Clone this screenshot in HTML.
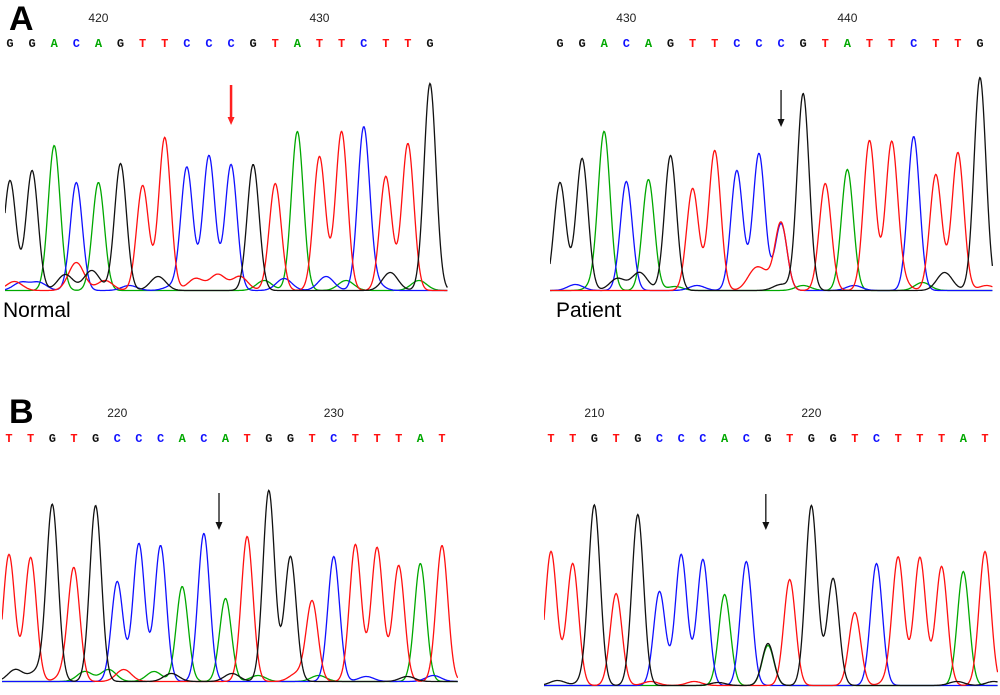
<!DOCTYPE html>
<html><head><meta charset="utf-8"><style>
html,body{margin:0;padding:0;background:#fff;}
svg{display:block;}
.seq{font-family:"Liberation Mono",monospace;font-size:12px;font-weight:bold;}
.num{font-family:"Liberation Sans",sans-serif;font-size:12px;fill:#222;}
.lab{font-family:"Liberation Sans",sans-serif;font-weight:bold;font-size:34px;fill:#000;}
.cap{font-family:"Liberation Sans",sans-serif;font-size:21px;fill:#000;}
</style></head><body>
<svg id="fig" width="1000" height="695" viewBox="0 0 1000 695">
<text class="lab" x="9" y="30">A</text>
<text class="lab" x="9" y="423">B</text>
<text class="cap" x="3" y="317">Normal</text>
<text class="cap" x="556" y="317">Patient</text>
</svg>
<script>
const aNormalBases = "GGACAGTTCCCGTATTCTTG";
const aNormalHeights = [110,120,145,108,108,127,105,153,123,135,126,126,107,159,134,159,161,114,147,207];
const aNormalExtra = [];
const aNormalNoise = [[0.2,'T',9],[0.5,'C',8],[1.3,'C',8],[2.5,'G',16],[3.0,'T',28],[3.7,'G',20],[4.3,'T',10],[5.4,'C',5],[6.7,'G',14],[7.3,'C',4],[8.4,'T',12],[9.4,'T',16],[10.4,'T',14],[11.5,'A',10],[12.4,'C',12],[14.3,'C',14],[15.2,'A',10],[16.5,'C',8],[17.2,'G',18],[18.5,'A',10]];
const aNormalTicks = ["420","430"];
const aNormalTickIdx = [4,14];

const aPatientBases = "GGACAGTTCCCGTATTCTTG";
const aPatientHeights = [108,132,156,109,111,135,102,140,120,137,67,197,107,121,150,144,154,116,138,213];
const aPatientExtra = [[10,'T',67]];
const aPatientNoise = [[0.7,'C',6],[1.6,'A',6],[2.6,'G',12],[3.6,'G',18],[5.2,'A',4],[6.2,'C',5],[8.8,'T',18],[9.3,'T',12],[10.0,'G',6],[11.0,'A',5],[13.3,'C',5],[15.4,'T',10],[16.4,'A',8],[17.4,'G',18],[19.3,'T',5]];
const aPatientTicks = ["430","440"];
const aPatientTickIdx = [3,13];

const bNormalBases = "TTGTGCCCACATGGTCTTTAT";
const bNormalHeights = [127,124,176,110,176,100,138,136,95,148,83,145,191,125,80,125,137,134,116,118,136];
const bNormalExtra = [];
const bNormalNoise = [[0.3,'G',12],[1.3,'G',10],[2.6,'T',8],[3.5,'A',10],[4.6,'A',12],[5.3,'T',12],[6.7,'A',10],[7.5,'G',8],[10.3,'G',8],[11.5,'A',6],[13.3,'T',8],[14.3,'A',6],[16.5,'C',5],[18.4,'G',5],[19.6,'C',6]];
const bNormalTicks = ["220","230"];
const bNormalTickIdx = [5,15];

const bPatientBases = "TTGTGCCCACGTGGTCTTTAT";
const bPatientHeights = [134,122,178,92,171,94,131,126,91,124,42,106,180,107,73,122,126,128,119,114,134];
const bPatientExtra = [[10,'A',40]];
const bPatientNoise = [[0.3,'G',5],[1.6,'G',5],[4.6,'T',4],[6.6,'T',4],[7.7,'G',3],[15.6,'T',5],[18.7,'G',4],[20.4,'G',4]];
const bPatientTicks = ["210","220"];
const bPatientTickIdx = [2,12];

const COLORS = {G:'#111111',A:'#00a800',C:'#1010ff',T:'#ff1010'};
const NS='http://www.w3.org/2000/svg';
const svg=document.getElementById('fig');

const panels=[
 {id:'a-normal',bases:aNormalBases,h:aNormalHeights,extra:aNormalExtra,noise:aNormalNoise,ticks:aNormalTicks,tickIdx:aNormalTickIdx,x0:10,x1:430,base:292,left:5,right:448,seqY:47,numY:22,arrow:[10,85,125,'#ff2020']},
 {id:'a-patient',bases:aPatientBases,h:aPatientHeights,extra:aPatientExtra,noise:aPatientNoise,ticks:aPatientTicks,tickIdx:aPatientTickIdx,x0:560,x1:980,base:292,left:550,right:993,seqY:47,numY:22,arrow:[10,90,127,'#111']},
 {id:'b-normal',bases:bNormalBases,h:bNormalHeights,extra:bNormalExtra,noise:bNormalNoise,ticks:bNormalTicks,tickIdx:bNormalTickIdx,x0:9,x1:442,base:683,left:2,right:458,seqY:442,numY:417,arrow:[9.7,493,530,'#111']},
 {id:'b-patient',bases:bPatientBases,h:bPatientHeights,extra:bPatientExtra,noise:bPatientNoise,ticks:bPatientTicks,tickIdx:bPatientTickIdx,x0:551,x1:985,base:687,left:544,right:998,seqY:442,numY:417,arrow:[9.9,494,530,'#111']}
];

function mk(tag,attrs){const e=document.createElementNS(NS,tag);for(const k in attrs)e.setAttribute(k,attrs[k]);return e;}

panels.forEach(p=>{
  const n=p.bases.length;
  const xs=i=>p.x0+(p.x1-p.x0)*i/(n-1);
  const ys=v=>p.base-v;
  const g=mk('g',{});
  
  
  svg.appendChild(g);
  const cp=mk('clipPath',{id:'clip-'+p.id});
  cp.appendChild(mk('rect',{x:p.left,y:p.base-240,width:p.right-p.left,height:250}));
  g.appendChild(cp);
  for(let i=0;i<n;i++){
    const b=p.bases[i];
    const t=mk('text',{x:xs(i),y:p.seqY,'text-anchor':'middle',fill:COLORS[b],class:'seq'});
    
    
    t.textContent=b;g.appendChild(t);
  }
  p.ticks.forEach((tk,j)=>{
    const t=mk('text',{x:xs(p.tickIdx[j]),y:p.numY,'text-anchor':'middle',class:'num'});
    
    
    t.textContent=tk;g.appendChild(t);
  });
  const peaks=[];
  for(let i=0;i<n;i++)peaks.push([i,p.bases[i],p.h[i]]);
  p.extra.forEach(e=>peaks.push(e));
  p.noise.forEach(e=>peaks.push([e[0],e[1],e[2],1.3]));
  const step=(p.x1-p.x0)/(n-1);
  const sig=step*0.27;
  ['A','C','T','G'].forEach(c=>{
    let d='';
    for(let x=p.left;x<=p.right;x+=0.7){
      let v=1.5;
      peaks.forEach(pk=>{
        if(pk[1]!==c)return;
        const s=sig*(pk[3]||1);
        const dx=x-xs(pk[0]);
        v+=pk[2]*Math.exp(-dx*dx/(2*s*s));
      });
      d+=(d?'L':'M')+x.toFixed(1)+','+ys(v).toFixed(1);
    }
    const path=mk('path',{d:d,fill:'none',stroke:COLORS[c],'stroke-width':1.3,'clip-path':'url(#clip-'+p.id+')'});
    
    
    g.appendChild(path);
  });
  const ax=xs(p.arrow[0]);
  const ar=mk('g',{});
  
  
  const w=p.arrow[3]==='#111'?1.3:2.5;
  ar.appendChild(mk('line',{x1:ax,y1:p.arrow[1],x2:ax,y2:p.arrow[2]-6,stroke:p.arrow[3],'stroke-width':w}));
  ar.appendChild(mk('polygon',{points:(ax-3.5)+','+(p.arrow[2]-8)+' '+(ax+3.5)+','+(p.arrow[2]-8)+' '+ax+','+p.arrow[2],fill:p.arrow[3]}));
  g.appendChild(ar);
});
</script>
</body></html>
